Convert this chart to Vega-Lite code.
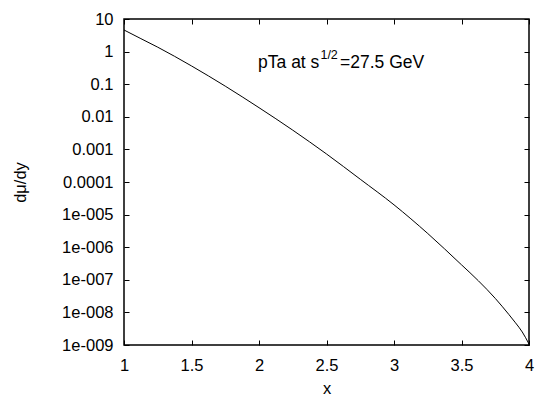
{
  "$schema": "https://vega.github.io/schema/vega-lite/v6.json",
  "autosize": {"type": "none"},
  "width": 405,
  "height": 326,
  "padding": {"left": 124, "top": 19, "right": 6, "bottom": 51},
  "background": "white",
  "config": {
    "view": {"stroke": "#000", "strokeWidth": 1.5},
    "font": "Liberation Sans",
    "axis": {
      "domain": false,
      "grid": false,
      "tickColor": "#000",
      "tickWidth": 1,
      "tickSize": -5,
      "labelColor": "#000",
      "labelFont": "Liberation Sans",
      "labelFontSize": 16.5,
      "titleFont": "Liberation Sans",
      "titleFontSize": 16.5,
      "titleFontWeight": "normal",
      "titleColor": "#000"
    }
  },
  "datasets": {
    "curve": [
      {"x": 1.0, "y": 4.6},
      {"x": 1.125, "y": 2.5},
      {"x": 1.25, "y": 1.365},
      {"x": 1.5, "y": 0.363},
      {"x": 1.75, "y": 0.0871},
      {"x": 2.0, "y": 0.01905},
      {"x": 2.25, "y": 0.00389},
      {"x": 2.5, "y": 0.000724},
      {"x": 2.75, "y": 0.0001216},
      {"x": 3.0, "y": 0.00001995},
      {"x": 3.25, "y": 0.00000263},
      {"x": 3.5, "y": 2.88e-7},
      {"x": 3.625, "y": 9.33e-8},
      {"x": 3.75, "y": 2.69e-8},
      {"x": 3.85, "y": 8.71e-9},
      {"x": 3.9, "y": 4.79e-9},
      {"x": 3.95, "y": 2.51e-9},
      {"x": 4.0, "y": 1.07e-9}
    ],
    "label": [
      {"x": 1.993, "y": 0.314, "t": "pTa at s"},
      {"x": 2.6, "y": 0.314, "t": "=27.5 GeV"}
    ],
    "sup": [
      {"x": 2.455, "y": 0.6, "t": "1/2"}
    ]
  },
  "layer": [
    {
      "data": {"name": "curve"},
      "mark": {"type": "line", "color": "#000", "strokeWidth": 1, "interpolate": "monotone"},
      "encoding": {
        "x": {
          "field": "x", "type": "quantitative",
          "scale": {"domain": [1, 4], "nice": false, "zero": false},
          "axis": {
            "orient": "bottom", "title": "x",
            "values": [1, 1.5, 2, 2.5, 3, 3.5, 4], "format": "~g",
            "labelPadding": 17, "labelFlush": false,
            "titleX": 202.5, "titleY": 48, "titleBaseline": "alphabetic", "titleAnchor": null
          }
        },
        "y": {
          "field": "y", "type": "quantitative",
          "scale": {"type": "log", "domain": [1e-9, 10], "nice": false},
          "axis": {
            "orient": "left", "title": "dμ/dy",
            "values": [1e-9, 1e-8, 1e-7, 1e-6, 1e-5, 0.0001, 0.001, 0.01, 0.1, 1, 10],
            "labelExpr": "datum.value > 0.00005 ? format(datum.value, '~f') : '1e-00' + round(-log(datum.value)/LN10)",
            "labelPadding": 16, "labelFlush": false,
            "titleX": -104, "titleY": 163, "titleAngle": -90, "titleBaseline": "middle", "titleAlign": "center"
          }
        }
      }
    },
    {
      "data": {"name": "curve"},
      "mark": {"type": "line", "opacity": 0},
      "encoding": {
        "x": {
          "field": "x", "type": "quantitative",
          "axis": {"orient": "top", "title": null, "labels": false,
                   "values": [1, 1.5, 2, 2.5, 3, 3.5, 4]}
        },
        "y": {
          "field": "y", "type": "quantitative",
          "axis": {"orient": "right", "title": null, "labels": false,
                   "values": [1e-9, 1e-8, 1e-7, 1e-6, 1e-5, 0.0001, 0.001, 0.01, 0.1, 1, 10]}
        }
      }
    },
    {
      "data": {"name": "label"},
      "mark": {"type": "text", "align": "left", "baseline": "alphabetic", "fontSize": 17.5, "font": "Liberation Sans", "color": "#000"},
      "encoding": {
        "x": {"field": "x", "type": "quantitative", "axis": null},
        "y": {"field": "y", "type": "quantitative", "axis": null},
        "text": {"field": "t"}
      }
    },
    {
      "data": {"name": "sup"},
      "mark": {"type": "text", "align": "left", "baseline": "alphabetic", "fontSize": 12.5, "font": "Liberation Sans", "color": "#000"},
      "encoding": {
        "x": {"field": "x", "type": "quantitative", "axis": null},
        "y": {"field": "y", "type": "quantitative", "axis": null},
        "text": {"field": "t"}
      }
    }
  ]
}
